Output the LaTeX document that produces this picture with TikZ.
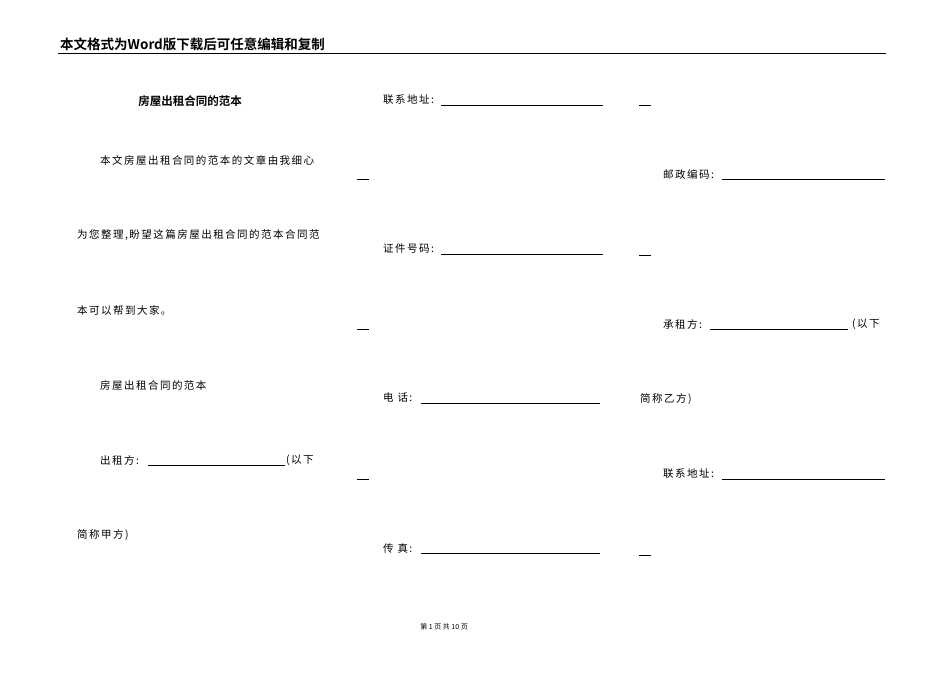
\documentclass[tikz,border=0pt]{standalone}
\usepackage{fontspec}
\setmainfont{Liberation Serif}
\newfontfamily\cjk[LetterSpace=14]{Noto Sans CJK SC}
\newfontfamily\cjkn{Noto Sans CJK SC}
\newfontfamily\cjkb{Noto Sans CJK SC Bold}
\begin{document}
\begin{tikzpicture}[x=1pt,y=-1pt,
  txt/.style={anchor=west,inner sep=0pt,font=\cjk\fontsize{10.5}{12}\selectfont},
  uline/.style={line width=0.5pt}]
\useasboundingbox[fill=white] (0,0) rectangle (950,672);
\node[anchor=west,inner sep=0pt,font=\cjkb\fontsize{13.5}{15}\selectfont] (hdr) at (60,44) {本文格式为Word版下载后可任意编辑和复制};
\draw[line width=0.8pt] (58,53) -- (886,53);
% column 1
\node[inner sep=0pt,font=\cjkb\fontsize{11.5}{13}\selectfont] (t) at (190,101) {房屋出租合同的范本};
\node[txt] (a1) at (100,160) {本文房屋出租合同的范本的文章由我细心};
\node[txt] (a2) at (77,235) {为您整理,盼望这篇房屋出租合同的范本合同范};
\node[txt] (a3) at (77,310) {本可以帮到大家。};
\node[txt] (a4) at (100,385) {房屋出租合同的范本};
\node[txt] (a5) at (100,460) {出租方:};
\draw[uline] (148,465) -- (285,465);
\node[txt] (a6) at (286,460) {(以下};
\node[txt] (a7) at (77,535) {简称甲方)};
% column 2
\node[txt] (b1) at (383,100) {联系地址:};
\draw[uline] (441,105) -- (603,105);
\node[txt] (b2) at (383,249) {证件号码:};
\draw[uline] (441,254) -- (603,254);
\node[txt] (b3) at (383,398) {电\ 话:};
\draw[uline] (421,403) -- (600,403);
\node[txt] (b4) at (383,548) {传\ 真:};
\draw[uline] (421,553) -- (600,553);
\foreach \y in {179,329,479} \draw[uline] (357,\y) -- (369,\y);
% column 3
\foreach \y in {105,255,555} \draw[uline] (639,\y) -- (651,\y);
\node[txt] (c1) at (663,174) {邮政编码:};
\draw[uline] (722,179) -- (885,179);
\node[txt] (c2) at (663,324) {承租方:};
\draw[uline] (710,329) -- (848,329);
\node[txt] (c3) at (852,324) {(以下};
\node[txt] (c4) at (640,399) {简称乙方)};
\node[txt] (c5) at (663,474) {联系地址:};
\draw[uline] (722,479) -- (885,479);
\node[inner sep=0pt,font=\cjkn\fontsize{7}{8}\selectfont] (ft) at (444,627) {第 1 页 共 10 页};
\end{tikzpicture}
\end{document}
